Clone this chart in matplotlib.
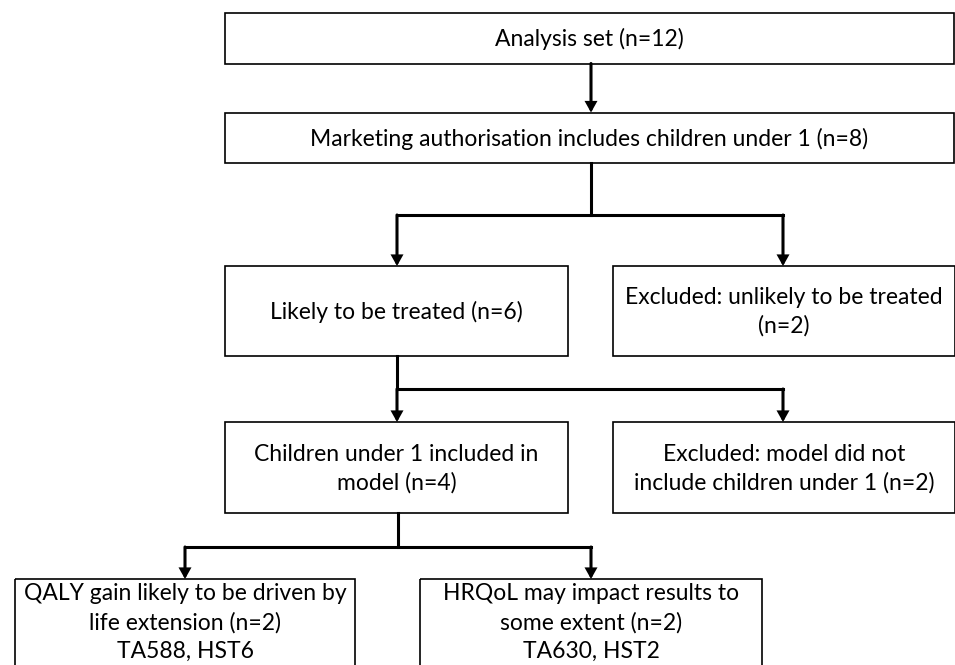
import matplotlib
matplotlib.use("Agg")
import matplotlib.pyplot as plt
from matplotlib.patches import Rectangle, FancyArrowPatch

# ---- data (flowchart content) ----
analysis_set_n = 12
ma_under1_n = 8
likely_treated_n = 6
unlikely_treated_n = 2
included_model_n = 4
not_included_model_n = 2
life_extension_n = 2
hrqol_impact_n = 2
life_extension_refs = ["TA588", "HST6"]
hrqol_refs = ["TA630", "HST2"]

labels = {
    "analysis": [f"Analysis set (n={analysis_set_n})"],
    "ma": [f"Marketing authorisation includes children under 1 (n={ma_under1_n})"],
    "likely": [f"Likely to be treated (n={likely_treated_n})"],
    "unlikely": ["Excluded: unlikely to be treated", f"(n={unlikely_treated_n})"],
    "model": ["Children under 1 included in", f"model (n={included_model_n})"],
    "nomodel": ["Excluded: model did not", f"include children under 1 (n={not_included_model_n})"],
    "life": ["QALY gain likely to be driven by", f"life extension (n={life_extension_n})",
             ", ".join(life_extension_refs)],
    "hrqol": ["HRQoL may impact results to", f"some extent (n={hrqol_impact_n})",
              ", ".join(hrqol_refs)],
}

# ---- layout (pixels, y downward) ----
W, H = 955, 665
boxes = {
    "analysis": (225, 13, 954, 63.5),
    "ma": (225, 112.5, 954, 163),
    "likely": (225, 266, 568, 355.5),
    "unlikely": (613, 266, 955, 355.5),
    "model": (225, 422, 568, 513),
    "nomodel": (613, 422, 955, 513),
    "life": (15, 579, 355, 700),
    "hrqol": (420, 579, 762, 700),
}
LINE = 28.5
FONT = ["Lato", "DejaVu Sans"]

fig = plt.figure(figsize=(W / 100, H / 100), dpi=100)
ax = fig.add_axes([0, 0, 1, 1])
ax.set_xlim(0, W)
ax.set_ylim(H, 0)
ax.axis("off")

# determine font size so the widest single line matches the reference width
probe = ax.text(0, 0, labels["ma"][0], fontsize=16, family=FONT)
fig.canvas.draw()
w = probe.get_window_extent().width
probe.remove()
fs = 16 * 560 / w

for key, (x0, y0, x1, y1) in boxes.items():
    ax.add_patch(Rectangle((x0, y0), x1 - x0, y1 - y0, fill=False,
                           edgecolor="black", lw=1.2, joinstyle="miter"))
    lines = labels[key]
    cx = (x0 + x1) / 2
    if key in ("life", "hrqol"):
        ys = [593 + i * LINE for i in range(len(lines))]
    else:
        cy = (y0 + y1) / 2
        n = len(lines)
        ys = [cy + (i - (n - 1) / 2) * LINE for i in range(n)]
    for t, yy in zip(lines, ys):
        ax.text(cx, yy + 1, t, ha="center", va="center", fontsize=fs,
                family=FONT, color="black")

LW = 2.2

def seg(xs, ys):
    ax.plot(xs, ys, color="black", lw=LW, solid_capstyle="projecting",
            solid_joinstyle="miter")

def arrow(x, ya, yb):
    ax.add_patch(FancyArrowPatch((x, ya), (x, yb),
                                 arrowstyle="-|>,head_length=0.5,head_width=0.28",
                                 mutation_scale=10, lw=LW, color="black",
                                 shrinkA=0, shrinkB=0, joinstyle="miter"))

# analysis -> ma
arrow(591, 63.5, 112.5)
# ma -> branch
seg([591, 591], [163, 215])
seg([397, 783], [215, 215])
arrow(397, 215, 266)
arrow(783, 215, 266)
# likely -> branch
seg([397, 397], [355.5, 389])
seg([397, 783], [389, 389])
arrow(397, 389, 422)
arrow(783, 389, 422)
# model -> branch
seg([398, 398], [513, 547])
seg([185, 591], [547, 547])
arrow(185, 547, 579)
arrow(591, 547, 579)

fig.savefig("out.png", dpi=100, facecolor="white")
